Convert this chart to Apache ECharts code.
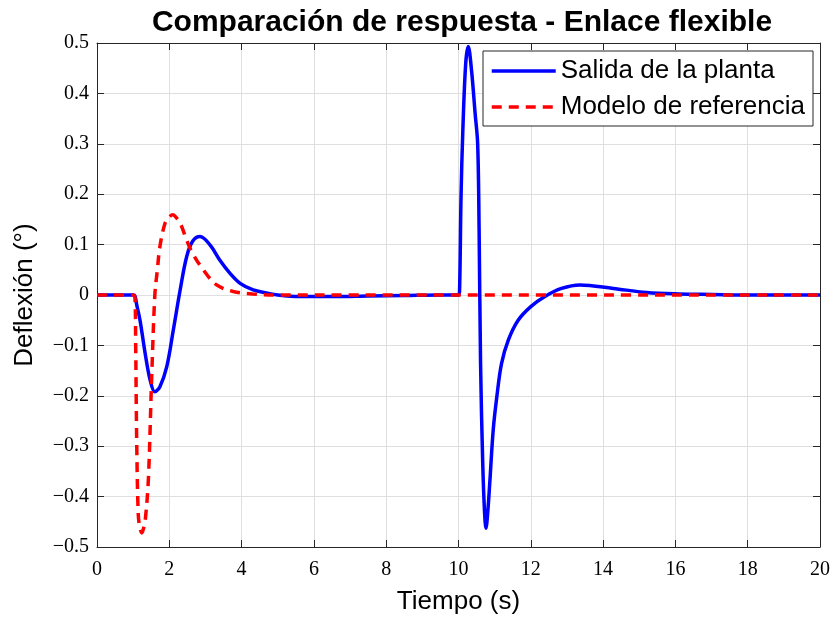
<!DOCTYPE html>
<html><head><meta charset="utf-8">
<script src="https://cdn.jsdelivr.net/npm/echarts@6/dist/echarts.min.js"></script>
<style>html,body{margin:0;padding:0;background:#fff}#c{width:835px;height:621px}</style>
</head><body><div id="c"></div>
<script>
const titleText = 'Comparación de respuesta - Enlace flexible';
const xName = 'Tiempo (s)';
const yName = 'Deflexión (°)';
const seriesNames = ['Salida de la planta', 'Modelo de referencia'];

const tBlue = [0, 1.0, 1.05, 1.1, 1.19, 1.33, 1.47, 1.6, 1.74, 1.93, 2.11, 2.3, 2.48, 2.65, 2.85, 3.13, 3.4, 3.68, 3.96, 4.32, 4.69, 5.0, 5.6, 6.5, 7.5, 8.5, 9.5, 10.0, 10.03, 10.07, 10.12, 10.2, 10.27, 10.36, 10.46, 10.53, 10.57, 10.61, 10.67, 10.72, 10.76, 10.81, 10.87, 10.96, 11.06, 11.19, 11.38, 11.65, 12.0, 12.39, 12.85, 13.36, 14.28, 15.2, 16.1, 17, 18, 20];
const yBlue = [0, 0, -0.002, -0.02, -0.05, -0.115, -0.169, -0.192, -0.182, -0.142, -0.07, 0.01, 0.076, 0.107, 0.116, 0.099, 0.069, 0.043, 0.023, 0.01, 0.004, 0.0, -0.003, -0.003, -0.002, -0.001, 0, 0, 0.01, 0.195, 0.327, 0.46, 0.493, 0.446, 0.36, 0.3, 0.13, -0.135, -0.333, -0.43, -0.463, -0.43, -0.367, -0.268, -0.202, -0.136, -0.089, -0.05, -0.023, -0.003, 0.013, 0.02, 0.013, 0.005, 0.002, 0.001, 0, 0];

const tRed = [0, 1.0, 1.05, 1.07, 1.1, 1.14, 1.18, 1.24, 1.28, 1.33, 1.42, 1.51, 1.6, 1.67, 1.74, 1.88, 2.0, 2.1, 2.2, 2.3, 2.45, 2.62, 2.94, 3.31, 3.77, 4.3, 5, 20];
const yRed = [0, 0, -0.005, -0.1, -0.3, -0.433, -0.46, -0.472, -0.465, -0.45, -0.367, -0.169, 0, 0.05, 0.096, 0.142, 0.155, 0.159, 0.153, 0.143, 0.115, 0.086, 0.05, 0.02, 0.007, 0.002, 0, 0];

const xTicks = [0, 2, 4, 6, 8, 10, 12, 14, 16, 18, 20];
const yTicks = [-0.5, -0.4, -0.3, -0.2, -0.1, 0, 0.1, 0.2, 0.3, 0.4, 0.5];

const pairs = (t, y) => t.map((v, i) => [v, y[i]]);
const fmt = v => { const r = Math.round(v * 10) / 10; return (r < 0 ? '\u2212' : '') + String(Math.abs(r)); };

const chart = echarts.init(document.getElementById('c'));
const axisLineStyle = { color: '#262626', width: 1 };
const serif = 'Liberation Serif';
const sans = 'Liberation Sans';
chart.setOption({
  animation: false,
  title: { text: titleText, left: 457, textAlign: 'center', top: 3,
    textStyle: { fontFamily: sans, fontWeight: 'bold', fontSize: 30, color: '#000' } },
  grid: { left: 97, right: 15, top: 43, bottom: 74, containLabel: false, outerBoundsMode: 'none' },
  legend: {
    left: 483, top: 51, orient: 'vertical', itemWidth: 64, itemHeight: 14, itemGap: 8,
    backgroundColor: '#fff', borderColor: '#262626', borderWidth: 1, borderRadius: 0, padding: [6, 8, 5, 7],
    textStyle: { fontFamily: sans, fontSize: 26, lineHeight: 28, color: '#000' },
    itemStyle: { opacity: 0 },
    lineStyle: { width: 3.5 },
    data: seriesNames
  },
  xAxis: [{
    type: 'value', min: 0, max: 20, interval: 2, name: xName, nameLocation: 'middle', nameGap: 42,
    nameTextStyle: { fontFamily: sans, fontSize: 26, color: '#000' },
    axisLine: { show: true, onZero: false, lineStyle: axisLineStyle }, axisTick: { inside: true, length: 7, lineStyle: axisLineStyle },
    axisLabel: { fontFamily: serif, fontSize: 20, color: '#000', margin: 13, formatter: fmt },
    splitLine: { show: true, lineStyle: { color: '#dfdfdf', width: 1 } }
  }, {
    type: 'value', min: 0, max: 20, interval: 2, position: 'top',
    axisLine: { show: true, onZero: false, lineStyle: axisLineStyle }, axisTick: { inside: true, length: 7, lineStyle: axisLineStyle },
    axisLabel: { show: false }, splitLine: { show: false }
  }],
  yAxis: [{
    type: 'value', min: -0.5, max: 0.5, interval: 0.1, name: yName, nameLocation: 'middle', nameGap: 59, nameRotate: 90,
    nameTextStyle: { fontFamily: sans, fontSize: 26, color: '#000' },
    axisLine: { show: true, onZero: false, lineStyle: axisLineStyle }, axisTick: { inside: true, length: 7, lineStyle: axisLineStyle },
    axisLabel: { fontFamily: serif, fontSize: 20, color: '#000', margin: 8, formatter: fmt },
    splitLine: { show: true, lineStyle: { color: '#dfdfdf', width: 1 } }
  }, {
    type: 'value', min: -0.5, max: 0.5, interval: 0.1, position: 'right',
    axisLine: { show: true, onZero: false, lineStyle: axisLineStyle }, axisTick: { inside: true, length: 7, lineStyle: axisLineStyle },
    axisLabel: { show: false }, splitLine: { show: false }
  }],
  series: [{
    name: seriesNames[0], type: 'line', data: pairs(tBlue, yBlue), showSymbol: false, symbol: 'none',
    smooth: 0.35, lineStyle: { color: '#0000ff', width: 3.5 }, itemStyle: { color: '#0000ff' }, z: 3
  }, {
    name: seriesNames[1], type: 'line', data: pairs(tRed, yRed), showSymbol: false, symbol: 'none',
    smooth: 0.35, lineStyle: { color: '#ff0000', width: 3.5, type: [10, 7] }, itemStyle: { color: '#ff0000' }, z: 4
  }]
});
</script></body></html>
